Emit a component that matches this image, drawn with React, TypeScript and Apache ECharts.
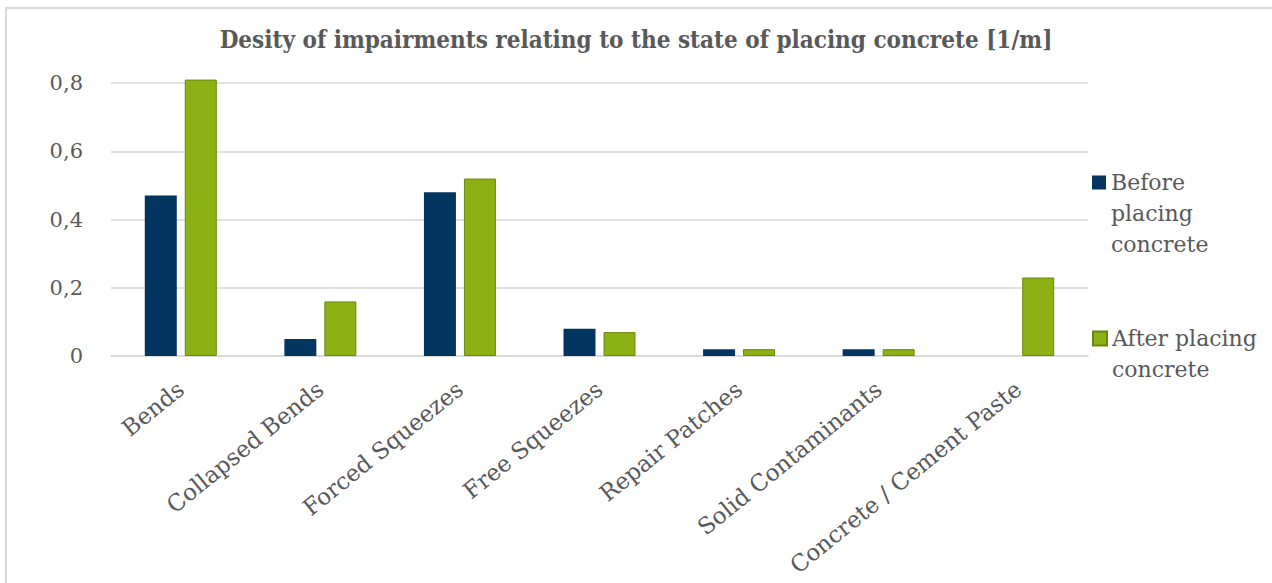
import React, { useEffect, useRef } from "react";
import * as echarts from "echarts";

const titleText = "Desity of impairments relating to the state of placing concrete [1/m]";
const categories = [
  "Bends",
  "Collapsed Bends",
  "Forced Squeezes",
  "Free Squeezes",
  "Repair Patches",
  "Solid Contaminants",
  "Concrete / Cement Paste",
];
const seriesNames = ["Before placing concrete", "After placing concrete"];
const legendLines = [
  ["Before", "placing", "concrete"],
  ["After placing", "concrete"],
];
const beforeValues = [0.47, 0.05, 0.48, 0.08, 0.02, 0.02, 0];
const afterValues = [0.81, 0.16, 0.52, 0.07, 0.02, 0.02, 0.23];
const yTicks = { min: 0, max: 0.8, interval: 0.2 };

const TEXT = "#595959";
const GRID = "#d9d9d9";
const FONT = "DejaVu Serif";

// first line aligned with the icon: pad blank lines before so the first line is the middle one
const legendLabel = (lines: string[]) =>
  "\n".repeat(lines.length - 1) + lines.join("\n");

export default function App() {
  const ref = useRef<HTMLDivElement>(null);
  useEffect(() => {
    if (!ref.current) return;
    const chart = echarts.init(ref.current, undefined, { renderer: "svg" });
    const legendBase = {
      orient: "vertical",
      left: 1092,
      padding: 0,
      itemWidth: 14,
      itemHeight: 14,
      icon: "rect",
      selectedMode: false,
      textStyle: { fontFamily: FONT, fontSize: 22, color: TEXT, lineHeight: 31 },
    };
    chart.setOption({
      animation: false,
      backgroundColor: "#ffffff",
      textStyle: { fontFamily: FONT },
      title: {
        text: titleText,
        left: "center",
        top: 22,
        textStyle: {
          fontFamily: "DejaVu Serif Condensed",
          fontWeight: "bold",
          fontSize: 24,
          color: TEXT,
        },
      },
      graphic: [
        {
          type: "rect",
          shape: { x: 6, y: 8, width: 1400, height: 700 },
          style: { fill: "none", stroke: GRID, lineWidth: 2 },
          silent: true,
          z: -10,
        },
      ],
      legend: [
        {
          ...legendBase,
          top: 105,
          data: [seriesNames[0]],
          formatter: () => legendLabel(legendLines[0]),
        },
        {
          ...legendBase,
          top: 292,
          data: [seriesNames[1]],
          formatter: () => legendLabel(legendLines[1]),
        },
      ],
      grid: { left: 111, right: 184, top: 83, bottom: 227, containLabel: false },
      xAxis: {
        type: "category",
        data: categories,
        axisLine: { show: true, lineStyle: { color: GRID, width: 1.5 } },
        axisTick: { show: false },
        axisLabel: {
          rotate: 39,
          margin: 30,
          interval: 0,
          fontFamily: FONT,
          fontSize: 23,
          color: TEXT,
        },
      },
      yAxis: {
        type: "value",
        min: yTicks.min,
        max: yTicks.max,
        interval: yTicks.interval,
        axisLine: { show: false },
        axisTick: { show: false },
        splitLine: { show: true, lineStyle: { color: GRID, width: 1.5 } },
        axisLabel: {
          margin: 28,
          fontFamily: FONT,
          fontSize: 21,
          color: TEXT,
          formatter: (v: number) => (v === 0 ? "0" : v.toFixed(1).replace(".", ",")),
        },
      },
      series: [
        {
          name: seriesNames[0],
          type: "bar",
          data: beforeValues,
          barWidth: 32,
          barGap: "25%",
          clip: false,
          itemStyle: { color: "#033561" },
        },
        {
          name: seriesNames[1],
          type: "bar",
          data: afterValues,
          barWidth: 32,
          clip: false,
          itemStyle: { color: "#8db115", borderColor: "#6b870f", borderWidth: 1 },
        },
      ],
    });
    return () => chart.dispose();
  }, []);
  return (
    <div
      ref={ref}
      style={{ position: "fixed", left: 0, top: 0, width: 1272, height: 583 }}
    />
  );
}
